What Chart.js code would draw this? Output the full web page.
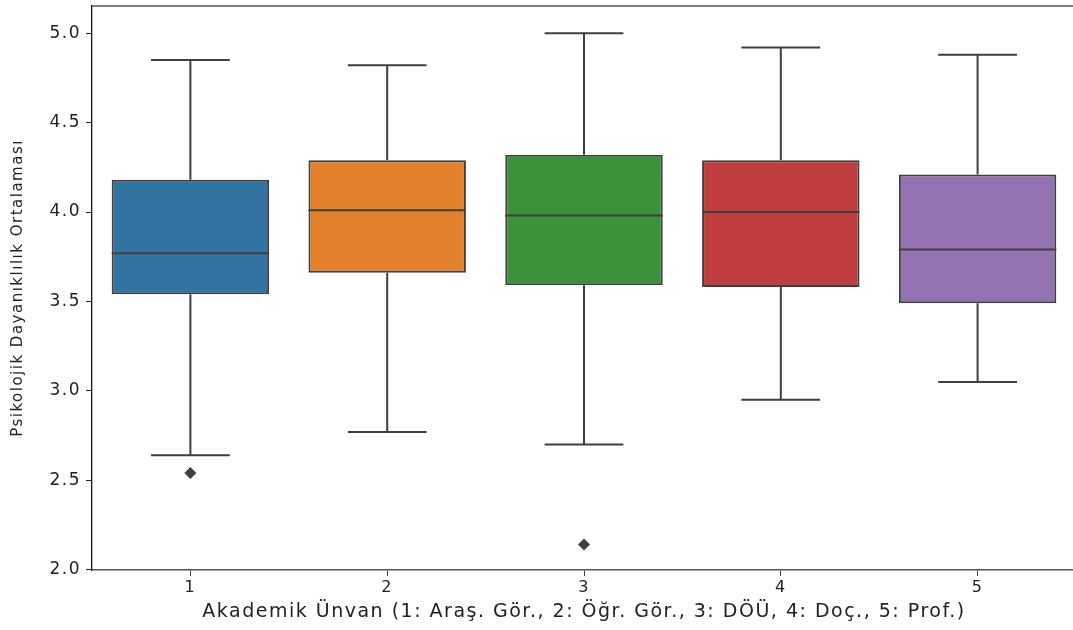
<!DOCTYPE html>
<html>
<head>
<meta charset="utf-8">
<script src="https://cdn.jsdelivr.net/npm/chart.js@4.4.0/dist/chart.umd.min.js"></script>
<style>
  html, body { margin: 0; padding: 0; background: #fff; overflow: hidden; width: 1073px; height: 630px; }
  #wrap { width: 1073px; height: 630px; overflow: hidden; position: relative; }
  #boxChart { position: absolute; left: 0; top: 0; }
</style>
</head>
<body>
<div id="wrap"><canvas id="boxChart" width="1082" height="630"></canvas></div>
<script>
// values
const categories = ['1', '2', '3', '4', '5'];
const lowerWhisker = [2.64, 2.77, 2.70, 2.95, 3.05];
const q1 = [3.54, 3.66, 3.59, 3.58, 3.49];
const median = [3.77, 4.01, 3.98, 4.00, 3.79];
const q3 = [4.18, 4.29, 4.32, 4.29, 4.21];
const upperWhisker = [4.85, 4.82, 5.00, 4.92, 4.88];
const outlierCategory = ['1', '3'];
const outlierValue = [2.54, 2.14];
const yTicks = [2.0, 2.5, 3.0, 3.5, 4.0, 4.5, 5.0];

const boxColors = ['#3274a1', '#e1812c', '#3a923a', '#c03d3e', '#9372b2'];
const lineColor = '#3f3f3f';
const textColor = '#222';

// medians, whiskers and caps drawn on top of the boxes
const boxPlotLines = {
  id: 'boxPlotLines',
  afterDatasetsDraw(chart) {
    const ctx = chart.ctx;
    const y = chart.scales.y;
    const bars = chart.getDatasetMeta(0).data;
    ctx.save();
    ctx.strokeStyle = lineColor;
    ctx.lineWidth = 2;
    bars.forEach((bar, i) => {
      const half = bar.width / 2;
      const cap = bar.width / 4;
      const yMed = y.getPixelForValue(median[i]);
      const yQ1 = y.getPixelForValue(q1[i]);
      const yQ3 = y.getPixelForValue(q3[i]);
      const yLo = y.getPixelForValue(lowerWhisker[i]);
      const yHi = y.getPixelForValue(upperWhisker[i]);
      ctx.beginPath();
      ctx.moveTo(bar.x - half, yMed); ctx.lineTo(bar.x + half, yMed);
      ctx.moveTo(bar.x, yQ3); ctx.lineTo(bar.x, yHi);
      ctx.moveTo(bar.x - cap, yHi); ctx.lineTo(bar.x + cap, yHi);
      ctx.moveTo(bar.x, yQ1); ctx.lineTo(bar.x, yLo);
      ctx.moveTo(bar.x - cap, yLo); ctx.lineTo(bar.x + cap, yLo);
      ctx.stroke();
    });
    ctx.restore();
  }
};

// top spine running off the right edge, and the wide lettering of the picture
const frame = {
  id: 'frame',
  beforeDraw(chart) { chart.ctx.letterSpacing = '1.5px'; },
  afterDraw(chart) {
    const {ctx, chartArea: a} = chart;
    ctx.save();
    ctx.strokeStyle = '#555';
    ctx.lineWidth = 1.5;
    ctx.beginPath();
    ctx.moveTo(a.left, a.top); ctx.lineTo(chart.width, a.top);
    ctx.moveTo(a.right, a.bottom); ctx.lineTo(chart.width, a.bottom);
    ctx.stroke();
    ctx.restore();
  }
};

const ctx = document.getElementById('boxChart').getContext('2d');
const boxChart = new Chart(ctx, {
  type: 'bar',
  data: {
    labels: categories,
    datasets: [{
      label: 'IQR',
      data: q1.map((v, i) => [v, q3[i]]),
      backgroundColor: boxColors,
      borderColor: lineColor,
      borderWidth: 2,
      borderSkipped: false,
      barPercentage: 0.8,
      categoryPercentage: 1.0
    }, {
      type: 'scatter',
      label: 'outliers',
      data: outlierCategory.map((c, i) => ({x: c, y: outlierValue[i]})),
      pointStyle: 'rectRot',
      pointRadius: 6,
      backgroundColor: lineColor,
      borderColor: lineColor,
      borderWidth: 0
    }]
  },
  options: {
    responsive: false,
    animation: false,
    layout: { padding: { top: 6, right: 0, left: 0, bottom: 0 } },
    plugins: {
      legend: { display: false },
      tooltip: { enabled: false }
    },
    scales: {
      x: {
        offset: true,
        grid: { display: true, drawOnChartArea: false, offset: false, tickLength: 6, color: '#444' },
        border: { display: true, color: '#555', width: 1.5 },
        ticks: { color: textColor, font: { family: 'DejaVu Sans', size: 16 }, padding: 2 },
        title: {
          display: true,
          text: 'Akademik Ünvan (1: Araş. Gör., 2: Öğr. Gör., 3: DÖÜ, 4: Doç., 5: Prof.)',
          color: textColor,
          font: { family: 'DejaVu Sans', size: 19 },
          padding: { top: 0, bottom: 7 }
        },
        afterFit(scale) {
          scale.height = 60;
          scale.paddingLeft = 0;
          scale.paddingRight = 0;
        }
      },
      y: {
        min: 1.998,
        max: 5.152,
        afterBuildTicks(scale) { scale.ticks = yTicks.map(v => ({ value: v })); },
        grid: { display: true, drawOnChartArea: false, tickLength: 6, color: '#222' },
        border: { display: true, color: '#111', width: 1.3 },
        ticks: {
          color: textColor,
          font: { family: 'DejaVu Sans', size: 17 },
          padding: 5,
          callback: v => Number(v).toFixed(1)
        },
        title: {
          display: true,
          text: 'Psikolojik Dayanıklılık Ortalaması',
          color: textColor,
          font: { family: 'DejaVu Sans', size: 15 },
          padding: { top: 9, bottom: 0 }
        },
        afterFit(scale) {
          scale.width = 92;
          scale.paddingTop = 0;
          scale.paddingBottom = 0;
        }
      }
    }
  },
  plugins: [boxPlotLines, frame]
});
</script>
</body>
</html>
